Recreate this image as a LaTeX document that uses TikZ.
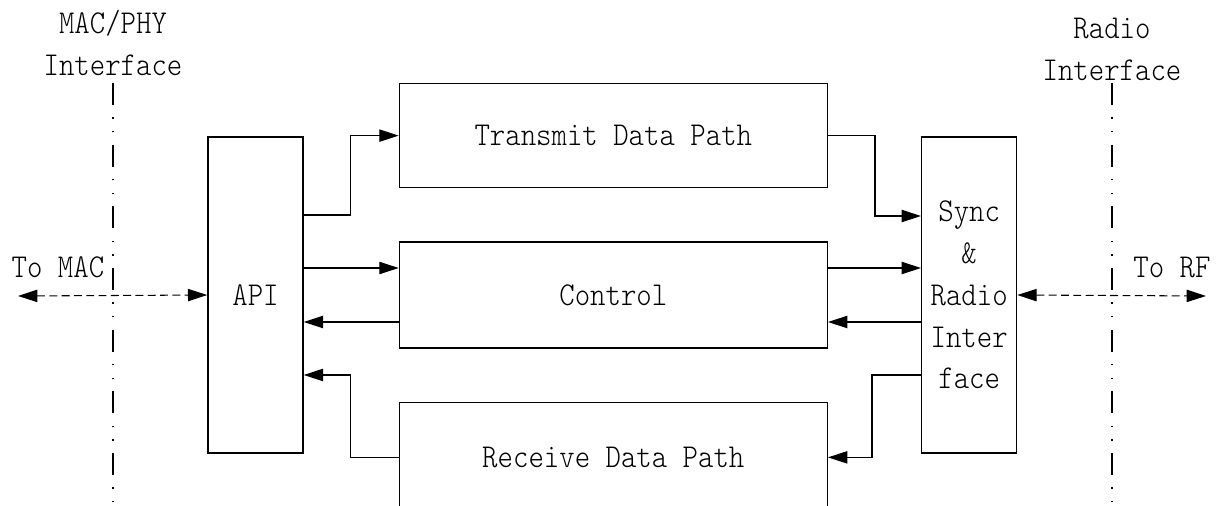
\documentclass[tikz,border=0pt]{standalone}
\usepackage{fontspec}
\setmonofont[FakeStretch=0.88]{lmmonolt10-regular.otf}
\usetikzlibrary{arrows.meta,positioning,calc}

\begin{document}
\begin{tikzpicture}[x=0.02cm,y=-0.02cm,
    font=\ttfamily\fontsize{19}{23.8}\selectfont,
    >={Triangle[length=11pt,width=7pt]},
    blk/.style={draw,line width=0.8pt,inner sep=0pt},
    conn/.style={->,line width=0.6pt},
    dbl/.style={<->,line width=0.6pt,dash pattern=on 4.5pt off 2.5pt},
    iface/.style={line width=1.6pt,dash pattern=on 12.5pt off 7pt on 0.8pt off 7pt on 0.8pt off 7pt},
    node distance=1.9cm]

      \useasboundingbox (0,0) rectangle (1221,506);
      \clip (0,0) rectangle (1221,506);

      \node[blk,minimum width=1.9cm,minimum height=6.32cm] (api) at (255.5,295) {API};
      \node[blk,right = of api,minimum width=8.56cm,minimum height=2.12cm] (ctrl) {Control};
      \node[blk,above = 1.06cm of ctrl,minimum width=8.56cm,minimum height=2.08cm] (tx) {Transmit Data Path};
      \node[blk,below = 1.06cm of ctrl,minimum width=8.56cm,minimum height=2.2cm] (rx) {Receive Data Path};
      \node[blk,right = 1.86cm of ctrl,minimum width=1.9cm,minimum height=6.32cm,align=center] (sync) {Sync\\\&\\Radio\\Inter\\face};

      \draw[conn] ([yshift=1.6cm]api.east) -- ++(47,0) |- (tx.west);
      \draw[conn] (tx.east) -- ++(47,0) |- ([yshift=1.58cm]sync.west);

      \draw[conn] ([yshift=0.54cm]api.east) -- ([yshift=0.54cm]ctrl.west);
      \draw[conn] ([yshift=-0.54cm]ctrl.west) -- ([yshift=-0.54cm]api.east);
      \draw[conn] ([yshift=0.54cm]ctrl.east) -- ([yshift=0.54cm]sync.west);
      \draw[conn] ([yshift=-0.54cm]sync.west) -- ([yshift=-0.54cm]ctrl.east);

      \draw[conn] ([yshift=-1.6cm]sync.west) -- ++(-49,0) |- (rx.east);
      \draw[conn] (rx.west) -- ++(-48,0) |- ([yshift=-1.6cm]api.east);

      % interfaces
      \node[align=center] (macif) at (113,43) {MAC/PHY\\Interface};
      \coordinate (mtop) at (113,83);
      \coordinate (mbot) at (113,506);
      \draw[iface] (mtop) -- (mbot);

      \node[align=center] (radif) at (1112,49) {Radio\\Interface};
      \coordinate (rtop) at (1112,83);
      \coordinate (rbot) at (1112,506);
      \draw[iface] (rtop) -- (rbot);

      \coordinate (mac) at (18,296);
      \node (tomac) at (58,267) {To MAC};
      \draw[dbl] (mac) -- (api.west);

      \coordinate (rf) at (1206,296);
      \node (torf) at (1172,267) {To RF};
      \draw[dbl] (sync.east) -- (rf);

    \end{tikzpicture}
\end{document}
